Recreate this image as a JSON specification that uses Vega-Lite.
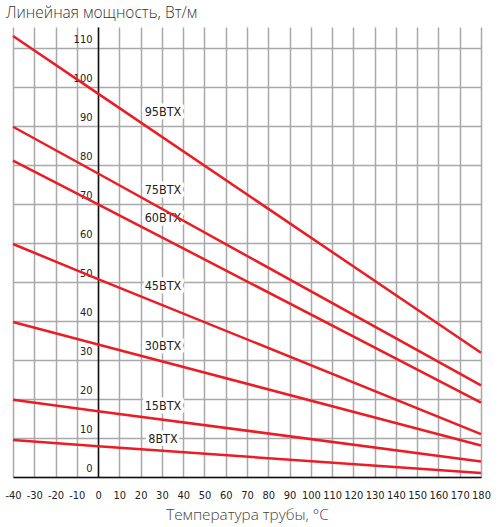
{
  "$schema": "https://vega.github.io/schema/vega-lite/v6.json",
  "width": 468,
  "height": 450,
  "autosize": {"type": "none"},
  "padding": {"left": 13, "top": 27, "right": 19, "bottom": 50},
  "background": "white",
  "title": {
    "text": "Линейная мощность, Вт/м",
    "anchor": "start",
    "frame": "group",
    "dx": -7,
    "offset": 6,
    "font": "Open Sans",
    "fontSize": 15.5,
    "fontWeight": 300,
    "color": "#333333"
  },
  "datasets": {
    "curves": [
      {"series": "95BTX", "t": -40, "p": 113.2},
      {"series": "95BTX", "t": 0, "p": 98.4},
      {"series": "95BTX", "t": 180, "p": 31.9},
      {"series": "75BTX", "t": -40, "p": 89.9},
      {"series": "75BTX", "t": 0, "p": 77.9},
      {"series": "75BTX", "t": 180, "p": 23.5},
      {"series": "60BTX", "t": -40, "p": 81.2},
      {"series": "60BTX", "t": 0, "p": 70.0},
      {"series": "60BTX", "t": 180, "p": 19.1},
      {"series": "45BTX", "t": -40, "p": 59.8},
      {"series": "45BTX", "t": 0, "p": 50.8},
      {"series": "45BTX", "t": 180, "p": 11.0},
      {"series": "30BTX", "t": -40, "p": 39.8},
      {"series": "30BTX", "t": 0, "p": 34.0},
      {"series": "30BTX", "t": 180, "p": 8.1},
      {"series": "15BTX", "t": -40, "p": 19.8},
      {"series": "15BTX", "t": 0, "p": 16.9},
      {"series": "15BTX", "t": 180, "p": 4.0},
      {"series": "8BTX", "t": -40, "p": 9.5},
      {"series": "8BTX", "t": 0, "p": 7.9},
      {"series": "8BTX", "t": 180, "p": 1.0}
    ],
    "labels": [
      {"series": "95BTX", "t": 30.5, "p": 93.6},
      {"series": "75BTX", "t": 30.5, "p": 73.7},
      {"series": "60BTX", "t": 30.5, "p": 66.4},
      {"series": "45BTX", "t": 30.5, "p": 48.9},
      {"series": "30BTX", "t": 30.5, "p": 33.7},
      {"series": "15BTX", "t": 30.5, "p": 18.1},
      {"series": "8BTX", "t": 30.5, "p": 9.7}
    ]
  },
  "encoding": {
    "x": {
      "field": "t",
      "type": "quantitative",
      "scale": {"domain": [-40, 180], "nice": false},
      "axis": {
        "values": [-40, -30, -20, -10, 0, 10, 20, 30, 40, 50, 60, 70, 80, 90, 100, 110, 120, 130, 140, 150, 160, 170, 180],
        "labelExpr": "replace(datum.label, '−', '-')",
        "title": "Температура трубы, °C",
        "grid": true,
        "gridColor": "#a9a9a9",
        "gridWidth": 1.5,
        "domainColor": "#111111",
        "domainWidth": 1.5,
        "ticks": false,
        "labelFont": "'DejaVu Sans Condensed', 'Liberation Sans', sans-serif",
        "labelFontSize": 11,
        "labelColor": "#222222",
        "labelPadding": 12,
        "labelFlush": false,
        "labelOverlap": false,
        "titleFont": "Open Sans",
        "titleFontSize": 15.3,
        "titleFontWeight": 300,
        "titleColor": "#444444",
        "titlePadding": 7
      }
    },
    "y": {
      "field": "p",
      "type": "quantitative",
      "scale": {"domain": [0, 115.5], "nice": false},
      "axis": {
        "values": [0, 10, 20, 30, 40, 50, 60, 70, 80, 90, 100, 110],
        "title": null,
        "offset": -85,
        "grid": true,
        "gridColor": "#a9a9a9",
        "gridWidth": 1.5,
        "domainColor": "#111111",
        "domainWidth": 1.5,
        "ticks": false,
        "labelFont": "'DejaVu Sans Condensed', 'Liberation Sans', sans-serif",
        "labelFontSize": 11,
        "labelColor": "#222222",
        "labelPadding": 6,
        "labelOffset": -9,
        "labelFlush": false
      }
    }
  },
  "layer": [
    {
      "data": {"name": "labels"},
      "mark": {
        "type": "text",
        "font": "'DejaVu Sans Condensed', 'Liberation Sans', sans-serif",
        "fontSize": 12.5,
        "align": "center",
        "baseline": "middle",
        "fill": "white",
        "stroke": "white",
        "strokeWidth": 7,
        "strokeJoin": "round"
      },
      "encoding": {"text": {"field": "series"}}
    },
    {
      "data": {"name": "labels"},
      "mark": {
        "type": "text",
        "font": "'DejaVu Sans Condensed', 'Liberation Sans', sans-serif",
        "fontSize": 12.5,
        "align": "center",
        "baseline": "middle",
        "color": "#222222"
      },
      "encoding": {"text": {"field": "series"}}
    },
    {
      "data": {"name": "curves"},
      "mark": {"type": "line", "color": "#ec1c24", "strokeWidth": 2.5},
      "encoding": {"detail": {"field": "series"}}
    }
  ],
  "config": {"view": {"stroke": null}}
}
